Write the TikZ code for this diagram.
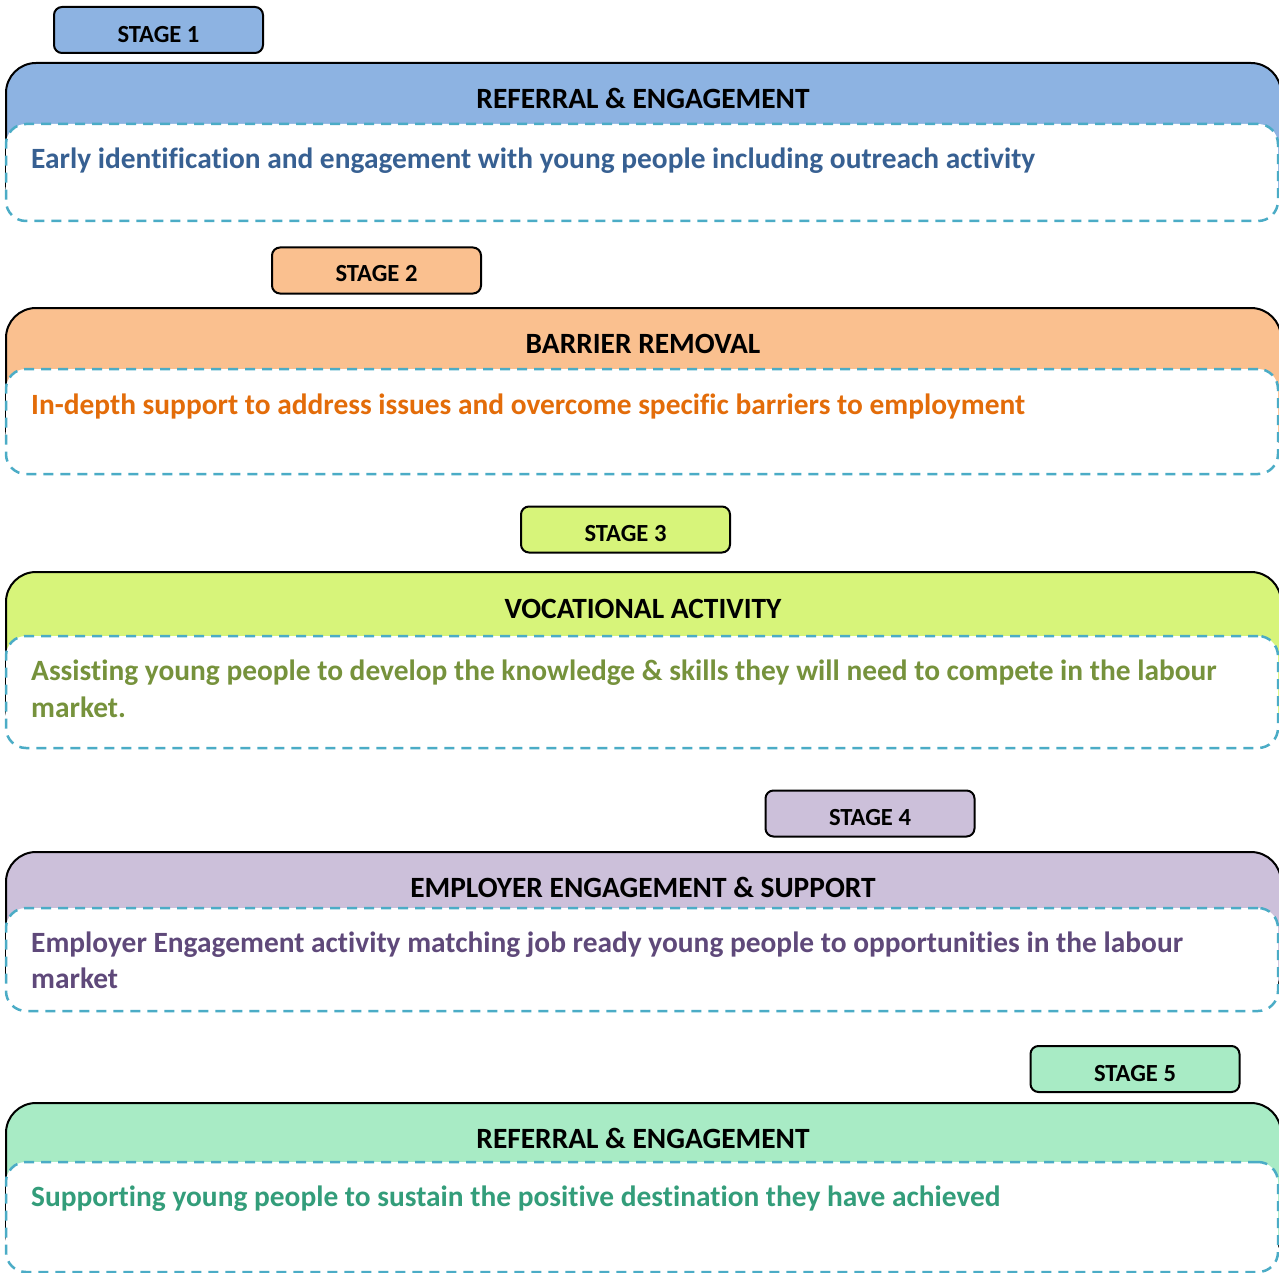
\documentclass[tikz,border=0pt]{standalone}
\usepackage{fontspec}
\setmainfont[Ligatures=NoCommon]{Carlito}
\definecolor{dashc}{HTML}{4BACC6}
\definecolor{fillA}{HTML}{8DB3E2}
\definecolor{fillB}{HTML}{FAC08F}
\definecolor{fillC}{HTML}{D7F47A}
\definecolor{fillD}{HTML}{CCC0DA}
\definecolor{fillE}{HTML}{A8EBC5}
\definecolor{txtA}{HTML}{376092}
\definecolor{txtB}{HTML}{E36C09}
\definecolor{txtC}{HTML}{76923C}
\definecolor{txtD}{HTML}{5F497A}
\definecolor{txtE}{HTML}{339D7A}
\tikzset{
  tabbox/.style={draw=black, line width=2pt, rounded corners=8pt, minimum width=209pt, minimum height=46pt, inner sep=0pt},
  tabtext/.style={anchor=base, font=\bfseries\fontsize{24.6}{28}\selectfont, inner sep=0pt},
  outerbox/.style={draw=black, line width=2pt, rounded corners=30pt, inner sep=0pt},
  innerbox/.style={draw=dashc, fill=white, line width=2.5pt, dash pattern=on 10pt off 7pt, rounded corners=20pt, inner sep=0pt},
  headtext/.style={anchor=base, font=\bfseries\fontsize{29.4}{34}\selectfont, inner sep=0pt},
  bodytext/.style={anchor=base west, font=\bfseries\fontsize{29.4}{36}\selectfont, inner sep=0pt},
}
\begin{document}
\begin{tikzpicture}[x=1pt,y=-1pt]
\useasboundingbox (0,0) rectangle (1279,1273);
\clip (0,0) rectangle (1279,1273);
% Stage 1
\node[tabbox, fill=fillA] (tab1) at (158.5,30) {};
\node[tabtext] (tabt1) at (158.5,43) {STAGE 1};
\node[outerbox, fill=fillA, minimum width=1275pt, minimum height=150pt] (out1) at (643.5,138) {};
\node[innerbox, minimum width=1272pt, minimum height=97pt] (in1) at (642,172.5) {};
\node[headtext] (head1) at (643,109) {REFERRAL \& ENGAGEMENT};
\node[bodytext, text=txtA] (body1) at (31,169) {Early identification and engagement with young people including outreach activity};
% Stage 2
\node[tabbox, fill=fillB] (tab2) at (376.5,270.5) {};
\node[tabtext] (tabt2) at (376.5,282) {STAGE 2};
\node[outerbox, fill=fillB, minimum width=1275pt, minimum height=150pt] (out2) at (643.5,383) {};
\node[innerbox, minimum width=1272pt, minimum height=105pt] (in2) at (642,421.5) {};
\node[headtext] (head2) at (643,353) {BARRIER REMOVAL};
\node[bodytext, text=txtB] (body2) at (31,414) {In-depth support to address issues and overcome specific barriers to employment};
% Stage 3
\node[tabbox, fill=fillC] (tab3) at (625.5,529.5) {};
\node[tabtext] (tabt3) at (625.5,541) {STAGE 3};
\node[outerbox, fill=fillC, minimum width=1275pt, minimum height=166pt] (out3) at (643.5,655) {};
\node[innerbox, minimum width=1272pt, minimum height=112pt] (in3) at (642,692) {};
\node[headtext] (head3) at (643,618) {VOCATIONAL ACTIVITY};
\node[bodytext, text=txtC] (body3a) at (31,680) {Assisting young people to develop the knowledge \& skills they will need to compete in the labour};
\node[bodytext, text=txtC] (body3b) at (31,717) {market.};
% Stage 4
\node[tabbox, fill=fillD] (tab4) at (870,813.5) {};
\node[tabtext] (tabt4) at (870,825) {STAGE 4};
\node[outerbox, fill=fillD, minimum width=1275pt, minimum height=150pt] (out4) at (643.5,927) {};
\node[innerbox, minimum width=1272pt, minimum height=103pt] (in4) at (642,959.5) {};
\node[headtext] (head4) at (643,897) {EMPLOYER ENGAGEMENT \& SUPPORT};
\node[bodytext, text=txtD] (body4a) at (31,952) {Employer Engagement activity matching job ready young people to opportunities in the labour};
\node[bodytext, text=txtD] (body4b) at (31,988) {market};
% Stage 5
\node[tabbox, fill=fillE] (tab5) at (1135,1069) {};
\node[tabtext] (tabt5) at (1135,1081) {STAGE 5};
\node[outerbox, fill=fillE, minimum width=1275pt, minimum height=160pt] (out5) at (643.5,1183) {};
\node[innerbox, minimum width=1272pt, minimum height=110pt] (in5) at (642,1217) {};
\node[headtext] (head5) at (643,1148) {REFERRAL \& ENGAGEMENT};
\node[bodytext, text=txtE] (body5) at (31,1206) {Supporting young people to sustain the positive destination they have achieved};
\end{tikzpicture}
\end{document}
